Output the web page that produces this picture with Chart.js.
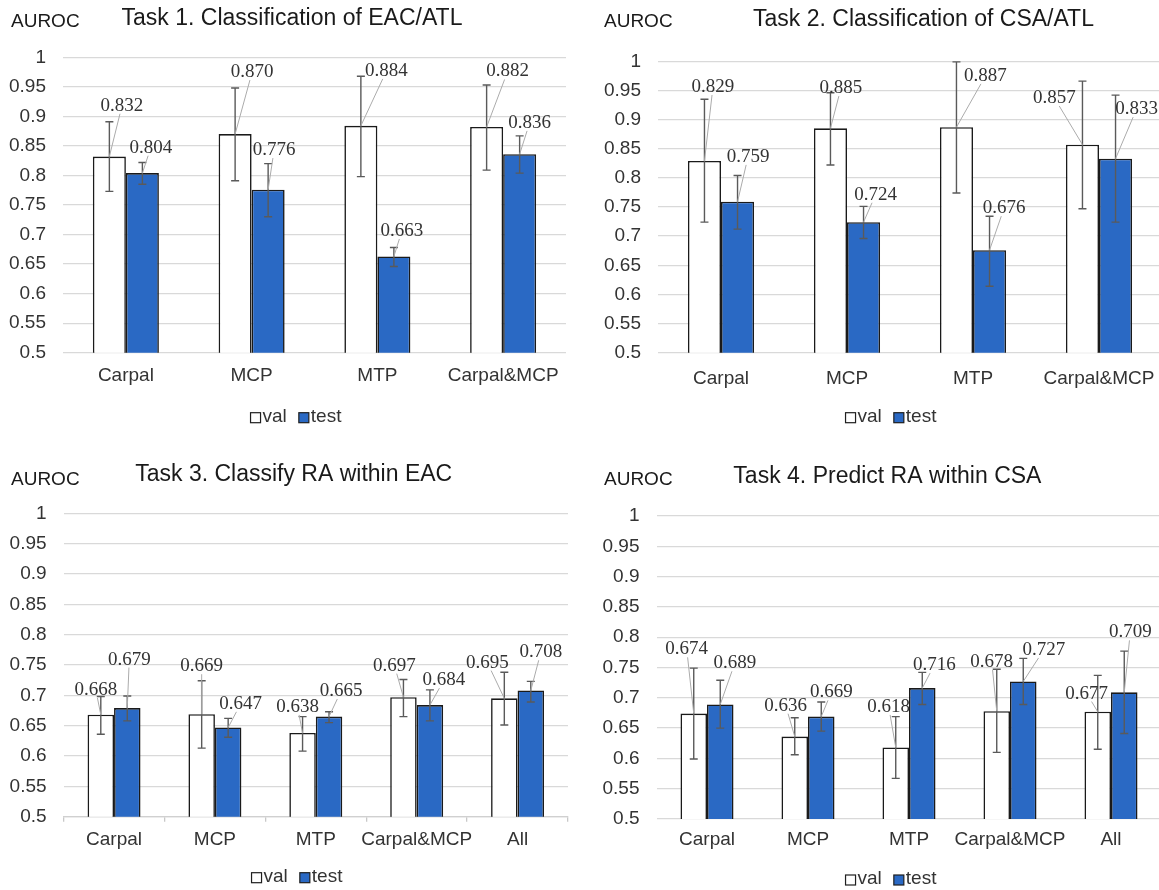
<!DOCTYPE html>
<html>
<head>
<meta charset="utf-8">
<script src="https://cdn.jsdelivr.net/npm/chart.js@4.4.0/dist/chart.umd.min.js"></script>
<style>
html, body { margin: 0; padding: 0; background: #fff; width: 1159px; height: 890px; overflow: hidden; }
.panel { position: absolute; }
</style>
</head>
<body>
<div class="panel" style="left:0;top:0"><canvas id="c1" width="580" height="445"></canvas></div>
<div class="panel" style="left:580px;top:0"><canvas id="c2" width="590" height="445"></canvas></div>
<div class="panel" style="left:0;top:445px"><canvas id="c3" width="580" height="460"></canvas></div>
<div class="panel" style="left:580px;top:445px"><canvas id="c4" width="590" height="460"></canvas></div>
<script>
// ---- data ----
var cats4 = ['Carpal', 'MCP', 'MTP', 'Carpal&MCP'];
var cats5 = ['Carpal', 'MCP', 'MTP', 'Carpal&MCP', 'All'];
var seriesNames = ['val', 'test'];
var yMin = 0.5, yMax = 1, yStep = 0.05;

// Task 1
var t1Val    = [0.832, 0.870, 0.884, 0.882];
var t1ValLo  = [0.773, 0.791, 0.798, 0.809];
var t1ValHi  = [0.891, 0.948, 0.968, 0.953];
var t1Test   = [0.804, 0.776, 0.663, 0.836];
var t1TestLo = [0.785, 0.730, 0.646, 0.804];
var t1TestHi = [0.822, 0.820, 0.678, 0.867];

// Task 2
var t2Val    = [0.829, 0.885, 0.887, 0.857];
var t2ValLo  = [0.724, 0.822, 0.774, 0.747];
var t2ValHi  = [0.935, 0.946, 0.999, 0.966];
var t2Test   = [0.759, 0.724, 0.676, 0.833];
var t2TestLo = [0.712, 0.696, 0.614, 0.724];
var t2TestHi = [0.804, 0.751, 0.734, 0.942];

// Task 3
var t3Val    = [0.668, 0.669, 0.638, 0.697, 0.695];
var t3ValLo  = [0.636, 0.613, 0.608, 0.665, 0.651];
var t3ValHi  = [0.698, 0.724, 0.665, 0.726, 0.738];
var t3Test   = [0.679, 0.647, 0.665, 0.684, 0.708];
var t3TestLo = [0.658, 0.631, 0.655, 0.658, 0.689];
var t3TestHi = [0.699, 0.662, 0.673, 0.709, 0.723];

// Task 4
var t4Val    = [0.674, 0.636, 0.618, 0.678, 0.677];
var t4ValLo  = [0.599, 0.606, 0.567, 0.610, 0.615];
var t4ValHi  = [0.749, 0.667, 0.669, 0.747, 0.737];
var t4Test   = [0.689, 0.669, 0.716, 0.727, 0.709];
var t4TestLo = [0.650, 0.645, 0.689, 0.689, 0.641];
var t4TestHi = [0.729, 0.693, 0.742, 0.765, 0.777];

// where the value labels sit (dx in px from bar centre, y on the value axis)
var t1LabDx = [[12.6, 17, 25.6, 21], [8.4, 6, 8, 10]];
var t1LabY  = [[0.918, 0.975, 0.977, 0.976], [0.847, 0.843, 0.706, 0.889]];
var t2LabDx = [[8.5, 10.5, 29, -28], [10.5, 12, 14.5, 21]];
var t2LabY  = [[0.956, 0.954, 0.975, 0.937], [0.836, 0.771, 0.748, 0.918]];
var t3LabDx = [[-5, 0, -5, -9, -17], [2, 12.5, 12, 14, 10]];
var t3LabY  = [[0.709, 0.748, 0.681, 0.749, 0.754], [0.759, 0.686, 0.707, 0.725, 0.771]];
var t4LabDx = [[-7, -9, -7, -5, -11], [14.5, 10, 12, 20.5, 6]];
var t4LabY  = [[0.780, 0.687, 0.685, 0.759, 0.707], [0.757, 0.709, 0.754, 0.779, 0.808]];

var SANS = 'Liberation Sans, Arial, sans-serif';
var SERIF = 'Liberation Serif, Times New Roman, serif';

// error bars, value labels with leader lines, title, unit text and legend
var extras = {
    id: 'extras',
    afterDatasetsDraw: function (chart)
    {
        var ctx = chart.ctx, ys = chart.scales.y;
        ctx.save();
        // error bars
        chart.data.datasets.forEach(function (ds, di) {
            chart.getDatasetMeta(di).data.forEach(function (bar, i) {
                var top = ys.getPixelForValue(ds.errHi[i]);
                var bot = ys.getPixelForValue(ds.errLo[i]);
                ctx.strokeStyle = '#5a5a5a';
                ctx.lineWidth = 1.4;
                ctx.beginPath();
                ctx.moveTo(bar.x, top); ctx.lineTo(bar.x, bot);
                ctx.moveTo(bar.x - 4, top); ctx.lineTo(bar.x + 4, top);
                ctx.moveTo(bar.x - 4, bot); ctx.lineTo(bar.x + 4, bot);
                ctx.stroke();
            });
        });
        // labels + leader lines
        ctx.font = '19px ' + SERIF;
        chart.data.datasets.forEach(function (ds, di) {
            chart.getDatasetMeta(di).data.forEach(function (bar, i) {
                var txt = ds.data[i].toFixed(3);
                var cx = bar.x + ds.labDx[i];
                var cy = ys.getPixelForValue(ds.labY[i]);
                var hw = ctx.measureText(txt).width / 2 + 1, hh = 8;
                var dx = bar.x - cx, dy = bar.y - cy;
                if (Math.abs(dx) > hw || Math.abs(dy) > hh) {
                    var t = Math.min(dx === 0 ? 1e9 : hw / Math.abs(dx), dy === 0 ? 1e9 : hh / Math.abs(dy));
                    var ex = cx + dx * t, ey = cy + dy * t;
                    if (Math.hypot(bar.x - ex, bar.y - ey) > 4) {
                        ctx.strokeStyle = '#ababab';
                        ctx.lineWidth = 1;
                        ctx.beginPath();
                        ctx.moveTo(ex, ey); ctx.lineTo(bar.x, bar.y);
                        ctx.stroke();
                    }
                }
                ctx.fillStyle = '#333';
                ctx.textAlign = 'center';
                ctx.textBaseline = 'middle';
                ctx.fillText(txt, cx, cy);
            });
        });
        ctx.restore();
    },
    afterDraw: function (chart)
    {
        var o = chart.options.plugins.extras, ctx = chart.ctx;
        ctx.save();
        ctx.fillStyle = '#1a1a1a';
        ctx.textBaseline = 'middle';
        ctx.textAlign = 'center';
        ctx.font = '23px ' + SANS;
        ctx.fillText(o.title, o.titleX, o.titleY);
        ctx.textAlign = 'left';
        ctx.font = '19px ' + SANS;
        ctx.fillText('AUROC', o.unitX, o.unitY);

        // legend: small boxes with the series names
        var items = chart.data.datasets.map(function (ds) {
            return { text: ds.label, fill: ds.backgroundColor, w: ctx.measureText(ds.label).width };
        });
        var box = 10, gapIn = 2, gapOut = 12;
        var total = 0;
        items.forEach(function (it, k) { total += box + gapIn + it.w + (k ? gapOut : 0); });
        var x = o.legendX - total / 2, y = o.legendY;
        items.forEach(function (it) {
            ctx.fillStyle = it.fill;
            ctx.fillRect(x, y - 4, box, 10);
            ctx.strokeStyle = '#1f1f1f';
            ctx.lineWidth = 1.2;
            ctx.strokeRect(x, y - 4, box, 10);
            ctx.fillStyle = '#333';
            ctx.fillText(it.text, x + box + gapIn, y);
            x += box + gapIn + it.w + gapOut;
        });
        ctx.restore();
    }
};

function CreateGraph(id, labels, val, valLo, valHi, test, testLo, testHi, labDx, labY, g)
{
    var yW = g.yW, xH = g.xH;
    return new Chart(document.getElementById(id), {
        type: 'bar',
        data: {
            labels: labels,
            datasets: [
                {
                    label: seriesNames[0], data: val, errLo: valLo, errHi: valHi,
                    labDx: labDx[0], labY: labY[0],
                    backgroundColor: '#ffffff', borderColor: '#1a1a1a', borderWidth: 1.6, borderSkipped: false
                },
                {
                    label: seriesNames[1], data: test, errLo: testLo, errHi: testHi,
                    labDx: labDx[1], labY: labY[1],
                    backgroundColor: '#2a69c4', borderColor: '#1a1a1a', borderWidth: 1.6, borderSkipped: false
                }
            ]
        },
        options: {
            responsive: false,
            animation: false,
            events: [],
            layout: { padding: g.pad },
            datasets: { bar: { categoryPercentage: 0.525, barPercentage: 1 } },
            scales: {
                x: {
                    grid: { display: !!g.xTicks, drawOnChartArea: false, drawTicks: !!g.xTicks, tickLength: 5, color: '#c8c8c8', lineWidth: 1.3 },
                    border: { display: !!g.xTicks, color: '#d0d0d0', width: 1.3 },
                    ticks: {
                        padding: g.xPad, color: '#333', font: { family: SANS, size: 19 },
                        maxRotation: 0, minRotation: 0, autoSkip: false
                    },
                    afterFit: function (s) { s.height = xH; }
                },
                y: {
                    min: yMin, max: yMax,
                    grid: { color: '#d9d9d9', lineWidth: 1.3, drawTicks: false },
                    border: { display: false },
                    ticks: {
                        stepSize: yStep, padding: 17, color: '#333', font: { family: SANS, size: 19 },
                        callback: function (v) { return String(+v.toFixed(2)); }
                    },
                    afterFit: function (s) { s.width = yW; }
                }
            },
            plugins: {
                legend: { display: false },
                tooltip: { enabled: false },
                extras: g.text
            }
        },
        plugins: [extras]
    });
}

CreateGraph('c1', cats4, t1Val, t1ValLo, t1ValHi, t1Test, t1TestLo, t1TestHi, t1LabDx, t1LabY, {
    pad: { left: 0, right: 14, top: 57.3, bottom: 43.8 }, yW: 63, xH: 48.5, xPad: 11.6,
    text: { title: 'Task 1. Classification of EAC/ATL', titleX: 292, titleY: 18.3, unitX: 11, unitY: 21.7,
            legendX: 296, legendY: 416.7 }
});
CreateGraph('c2', cats4, t2Val, t2ValLo, t2ValHi, t2Test, t2TestLo, t2TestHi, t2LabDx, t2LabY, {
    pad: { left: 0, right: 8, top: 61.3, bottom: 43.8 }, yW: 78, xH: 48.5, xPad: 14.2,
    text: { title: 'Task 2. Classification of CSA/ATL', titleX: 343.5, titleY: 20, unitX: 24, unitY: 21.7,
            legendX: 311, legendY: 416.7 }
});
CreateGraph('c3', cats5, t3Val, t3ValLo, t3ValHi, t3Test, t3TestLo, t3TestHi, t3LabDx, t3LabY, {
    pad: { left: 0, right: 12, top: 68.3, bottom: 43.8 }, yW: 63.6, xH: 44.5, xPad: 6.9, xTicks: true,
    text: { title: 'Task 3. Classify RA within EAC', titleX: 293.7, titleY: 30, unitX: 11, unitY: 35,
            legendX: 297, legendY: 431.7 }
});
CreateGraph('c4', cats5, t4Val, t4ValLo, t4ValHi, t4Test, t4TestLo, t4TestHi, t4LabDx, t4LabY, {
    pad: { left: 0, right: 8.5, top: 71, bottom: 41.5 }, yW: 76.5, xH: 44.5, xPad: 9.6,
    text: { title: 'Task 4. Predict RA within CSA', titleX: 307.4, titleY: 31.7, unitX: 24, unitY: 35,
            legendX: 311, legendY: 434 }
});
</script>
</body>
</html>
